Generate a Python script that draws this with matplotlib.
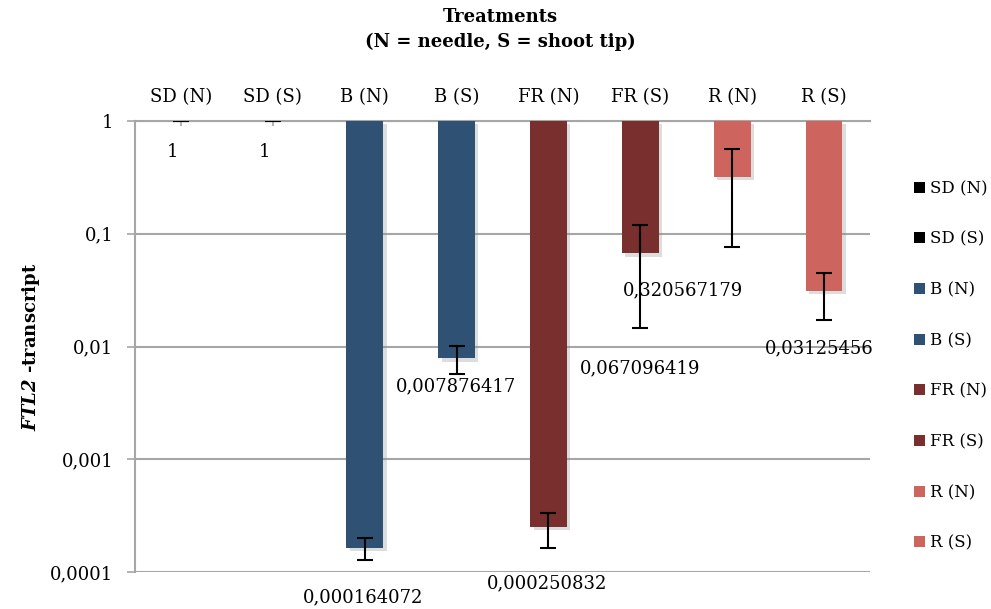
import numpy as np
import matplotlib
matplotlib.use("Agg")
import matplotlib.pyplot as plt
from matplotlib import patheffects as pe

plt.rcParams['font.family'] = ['DejaVu Serif']
plt.rcParams['mathtext.fontset'] = 'custom'
plt.rcParams['mathtext.bfit'] = 'DejaVu Serif:italic:bold'

# Relative FTL2 transcript level per treatment (log scale, SD = 1)
categories = ["SD (N)", "SD (S)", "B (N)", "B (S)", "FR (N)", "FR (S)", "R (N)", "R (S)"]
values = [1.0, 1.0, 0.000164072, 0.007876417, 0.000250832, 0.067096419, 0.320567179, 0.03125456]
errors = [0.004, 0.004, 0.000037, 0.0022, 0.000086, 0.0525, 0.245, 0.014]
value_labels = ["1", "1", "0,000164072", "0,007876417", "0,000250832",
                "0,067096419", "0,320567179", "0,03125456"]
yticks = [1, 0.1, 0.01, 0.001, 0.0001]
ytick_labels = ["1", "0,1", "0,01", "0,001", "0,0001"]

colors = ["#000000", "#000000", "#2F5274", "#2F5274",
          "#782F2E", "#782F2E", "#CD645E", "#CD645E"]
# label offsets in pixels relative to the bar end (dx, dy downwards)
label_offsets = [(-8, 31), (-8, 31), (-2, 50), (-1, 28), (-1, 56),
                 (0, 115), (-49, 114), (-5, 58)]

fig = plt.figure(figsize=(9.91, 6.09), dpi=100)
ax = fig.add_axes([135 / 991, 1 - 572 / 609, 735 / 991, 451 / 609])
ax.set_yscale('log')
ax.set_ylim(0.0001, 1)
x = np.arange(len(categories))
ax.set_xlim(-0.5, len(categories) - 0.5)

grid_col = "#A6A6A6"
for t in yticks:
    ax.axhline(t, color=grid_col, lw=1.5, zorder=1)

heights = np.array(values) - 1.0
shadow = [pe.SimplePatchShadow(offset=(2.5, -2.5), shadow_rgbFace='#909090', alpha=0.3), pe.Normal()]
bars = []
for i in range(len(categories)):
    b = ax.bar(x[i], heights[i], bottom=1.0, width=0.40, color=colors[i],
               label=categories[i], zorder=3)
    if heights[i] != 0:
        b.patches[0].set_path_effects(shadow)
    bars.append(b)

ax.errorbar(x, values, yerr=errors, fmt='none', ecolor='black', elinewidth=1.5,
            capsize=5.6, capthick=1.5, zorder=4)

for i, lab in enumerate(value_labels):
    dx, dy = label_offsets[i]
    ax.annotate(lab, xy=(x[i], values[i]), xytext=(dx, -dy), textcoords='offset pixels',
                ha='center', va='center', fontsize=13, zorder=5)

# y axis
ax.set_yticks(yticks)
ax.set_yticklabels(ytick_labels)
ax.yaxis.set_minor_locator(matplotlib.ticker.NullLocator())
ax.tick_params(axis='y', which='major', direction='out', length=5.5, width=1.2,
               color=grid_col, labelsize=13, pad=10)

# category axis along the top
ax.xaxis.set_ticks_position('top')
ax.xaxis.set_label_position('top')
ax.set_xticks(x)
ax.set_xticklabels(categories)
ax.tick_params(axis='x', direction='in', length=3.5, width=1.2, color=grid_col,
               labelsize=13, pad=11)

for s in ['right', 'bottom']:
    ax.spines[s].set_visible(False)
ax.spines['top'].set_color(grid_col)
ax.spines['top'].set_linewidth(1.5)
ax.spines['left'].set_color(grid_col)
ax.spines['left'].set_linewidth(1.5)

ax.set_ylabel(r"$\mathbfit{FTL2}$ -transcript", fontsize=13, fontweight='bold', labelpad=6)

fig.text(0.5045, 1 - 17 / 609, "Treatments", ha='center', va='center',
         fontsize=13, fontweight='bold')
fig.text(0.5045, 1 - 42 / 609, "(N = needle, S = shoot tip)", ha='center', va='center',
         fontsize=13, fontweight='bold')

handles = [b.patches[0] for b in bars]
leg = fig.legend(handles, categories, loc='upper left',
                 bbox_to_anchor=(914 / 991, 1 - 180 / 609), frameon=False,
                 fontsize=12, handlelength=0.65, handleheight=0.65,
                 handletextpad=0.3, labelspacing=2.02, borderpad=0, borderaxespad=0)
for h, c in zip(leg.legend_handles, colors):
    h.set_path_effects([])
    h.set_facecolor(c)

fig.savefig("out.png", dpi=100)
